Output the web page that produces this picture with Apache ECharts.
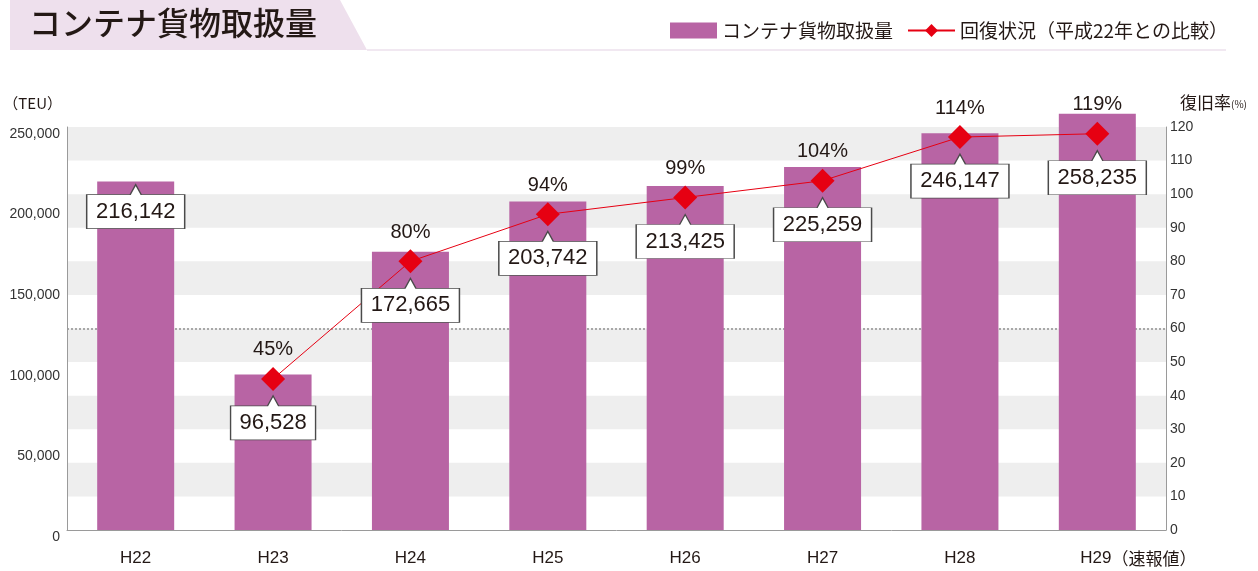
<!DOCTYPE html>
<html>
<head>
<meta charset="utf-8">
<title>コンテナ貨物取扱量</title>
<script src="https://cdn.jsdelivr.net/npm/echarts@6/dist/echarts.min.js"></script>
<style>
  html, body { margin: 0; padding: 0; background: #fff; }
  #chart { width: 1258px; height: 571px; }
</style>
</head>
<body>
<div id="chart"></div>
<script>
// データ
const years = ['H22', 'H23', 'H24', 'H25', 'H26', 'H27', 'H28', 'H29（速報値）'];
const cargoTEU = [216142, 96528, 172665, 203742, 213425, 225259, 246147, 258235];
// 回復状況（ラベルの値）
const recoveryLabel = [null, 45, 80, 94, 99, 104, 114, 119];
// 図中でひし形が描かれている高さ（右軸の値）
const recoveryPlot = [null, 45, 80, 94, 99, 104, 117, 118];

const JP = '"Noto Sans CJK JP", sans-serif';
const NUM = '"Liberation Sans", Arial, sans-serif';
const INK = '#231815';

const fmt = n => n.toLocaleString('en-US');

// 吹き出し（上に三角の付いた白い箱）をシンボルとして作る
const measure = document.createElement('canvas').getContext('2d');
measure.font = '22px "Liberation Sans"';
function callout(text){
  const w = Math.round(measure.measureText(text).width + 18);
  const h = 44, p = 10, hw = 5.5;
  return {
    symbol: `path://M0,${p}L${w / 2 - hw},${p}L${w / 2},0L${w / 2 + hw},${p}L${w},${p}L${w},${h}L0,${h}Z`,
    symbolSize: [w, h]
  };
}

// H22 は棒の上端、それ以外はひし形の下に吹き出しを置く
const calloutOnBar = cargoTEU.map((v, i) => i === 0 ? Object.assign({ value: v }, callout(fmt(v))) : null);
const calloutOnLine = recoveryPlot.map((v, i) => v == null ? null : Object.assign({ value: v }, callout(fmt(cargoTEU[i]))));

const calloutLabel = {
  show: true,
  position: 'inside',
  offset: [0, 5],
  formatter: p => fmt(cargoTEU[p.dataIndex]),
  fontFamily: NUM,
  fontSize: 22,
  color: INK
};
const calloutItem = { color: '#fff', borderColor: '#4a4a4a', borderWidth: 1, opacity: 1 };

// 60% の点線だけ色を付ける
const splitColors = [];
for (let v = 0; v <= 120; v += 10) splitColors.push(v === 60 ? '#a8a8a8' : 'rgba(0,0,0,0)');

const chart = echarts.init(document.getElementById('chart'));
const option = {
  animation: false,
  graphic: [
    { type: 'polygon', z: 0, shape: { points: [[10, 0], [340, 0], [367, 50], [10, 50]] }, style: { fill: '#eee0ed' } },
    { type: 'line', z: 0, shape: { x1: 367, y1: 50, x2: 1226, y2: 50 }, style: { stroke: '#f1e8f1', lineWidth: 2 } },
    { type: 'text', z: 1, left: 29, top: 7, style: { text: 'コンテナ貨物取扱量', font: `500 32px ${JP}`, fill: INK } }
  ],
  legend: {
    left: 665,
    top: 16,
    itemWidth: 47,
    itemHeight: 16,
    itemGap: 14,
    textStyle: { fontFamily: JP, fontSize: 19, color: INK },
    data: [
      { name: 'コンテナ貨物取扱量', icon: 'rect' },
      { name: '回復状況（平成22年との比較）' }
    ]
  },
  grid: { left: 67, right: 92, top: 127, bottom: 41, containLabel: false },
  xAxis: {
    type: 'category',
    data: years,
    axisLine: { lineStyle: { color: '#9a9a9a', width: 1 } },
    axisTick: { show: false },
    axisLabel: {
      interval: 0,
      margin: 20,
      fontFamily: NUM,
      fontSize: 17,
      color: INK,
      formatter: v => {
        const k = v.indexOf('（');
        return k < 0 ? v : `{a|${v.slice(0, k)}}{b|${v.slice(k)}}`;
      },
      rich: {
        a: { fontFamily: NUM, fontSize: 17, color: INK, padding: [0, 0, 0, 82] },
        b: { fontFamily: JP, fontSize: 17, color: INK }
      }
    }
  },
  yAxis: [
    {
      type: 'value',
      min: 0,
      max: 250000,
      interval: 50000,
      position: 'left',
      name: '（TEU）',
      nameLocation: 'end',
      nameGap: 16,
      nameTextStyle: { fontFamily: JP, fontSize: 15, color: INK, align: 'right', padding: [0, 5, 0, 0] },
      axisLine: { show: true, lineStyle: { color: '#9a9a9a', width: 1 } },
      axisTick: { show: false },
      splitLine: { show: false },
      axisLabel: { formatter: v => fmt(v), fontFamily: NUM, fontSize: 14, color: '#333', margin: 7, verticalAlign: 'top' }
    },
    {
      type: 'value',
      min: 0,
      max: 120,
      interval: 10,
      position: 'right',
      name: '{a|復旧率}{b|(%)}',
      nameLocation: 'end',
      nameGap: 16,
      nameTextStyle: {
        align: 'left',
        padding: [0, 0, 0, 14],
        rich: {
          a: { fontFamily: JP, fontSize: 17, color: INK },
          b: { fontFamily: JP, fontSize: 10, color: INK, padding: [4, 0, 0, 0] }
        }
      },
      axisLine: { show: true, lineStyle: { color: '#9a9a9a', width: 1 } },
      axisTick: { show: false },
      axisLabel: { fontFamily: NUM, fontSize: 14, color: '#333', margin: 4 },
      splitLine: { show: true, lineStyle: { type: 'dotted', width: 2, color: splitColors } },
      splitArea: { show: true, areaStyle: { color: ['rgba(0,0,0,0)', '#eeeeee'] } }
    }
  ],
  series: [
    {
      name: 'コンテナ貨物取扱量',
      type: 'bar',
      data: cargoTEU,
      yAxisIndex: 0,
      barWidth: 77,
      clip: false,
      itemStyle: { color: '#b864a4' },
      z: 2
    },
    {
      name: '回復状況（平成22年との比較）',
      type: 'line',
      data: recoveryPlot,
      yAxisIndex: 1,
      symbol: 'diamond',
      symbolSize: 24,
      itemStyle: { color: '#e60012' },
      lineStyle: { color: '#e60012', width: 1 },
      label: {
        show: true,
        position: 'top',
        distance: 7,
        formatter: p => recoveryLabel[p.dataIndex] + '%',
        fontFamily: NUM,
        fontSize: 20,
        color: INK
      },
      z: 3
    },
    {
      type: 'scatter',
      data: calloutOnBar,
      yAxisIndex: 0,
      symbolOffset: [0, 25],
      itemStyle: calloutItem,
      label: calloutLabel,
      silent: true,
      z: 4
    },
    {
      type: 'scatter',
      data: calloutOnLine,
      yAxisIndex: 1,
      symbolOffset: [0, 39],
      itemStyle: calloutItem,
      label: calloutLabel,
      silent: true,
      z: 4
    }
  ]
};
chart.setOption(option);
</script>
</body>
</html>
